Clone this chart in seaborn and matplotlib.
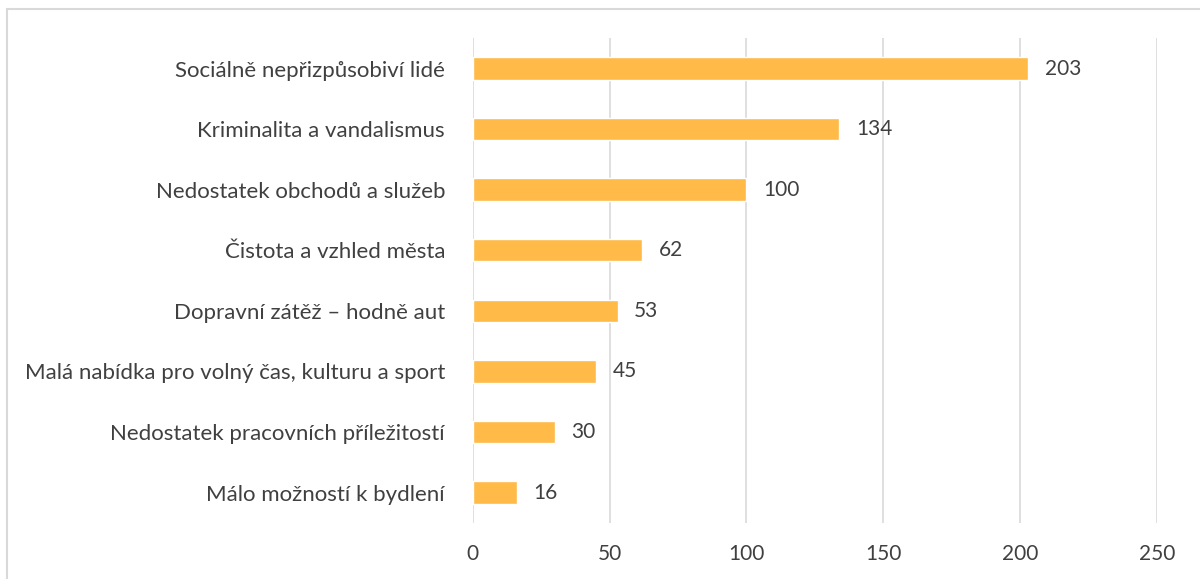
import matplotlib
matplotlib.use('Agg')
import matplotlib.pyplot as plt
import seaborn as sns
import pandas as pd
from matplotlib.patches import Rectangle

# Data
categories = ['Sociálně nepřizpůsobiví lidé', 'Kriminalita a vandalismus',
              'Nedostatek obchodů a služeb', 'Čistota a vzhled města',
              'Dopravní zátěž – hodně aut', 'Malá nabídka pro volný čas, kulturu a sport',
              'Nedostatek pracovních příležitostí', 'Málo možností k bydlení']
counts = [203, 134, 100, 62, 53, 45, 30, 16]
x_ticks = [0, 50, 100, 150, 200, 250]

df = pd.DataFrame({'kategorie': categories, 'pocet': counts})

sns.set_style('white')
plt.rcParams['font.family'] = ['Lato', 'DejaVu Sans']
text_col = '#404040'

fig = plt.figure(figsize=(12, 5.79), dpi=100)
ax = fig.add_axes([0.394, 0.097, 0.570, 0.837])

sns.barplot(data=df, x='pocet', y='kategorie', color='#FFBA47', saturation=1,
            width=0.37, ax=ax)

for bar, v in zip(ax.patches, counts):
    ax.text(bar.get_width() + 6, bar.get_y() + bar.get_height() / 2, str(v),
            va='center', ha='left', fontsize=15, color=text_col)

ax.set_xlim(0, 250)
ax.set_xticks(x_ticks)
ax.set_xlabel('')
ax.set_ylabel('')
ax.grid(axis='x', color='#d9d9d9', linewidth=1.2)
ax.set_axisbelow(True)
for s in ax.spines.values():
    s.set_visible(False)
ax.tick_params(axis='x', length=0, labelsize=15, labelcolor=text_col, pad=15)
ax.tick_params(axis='y', length=0, labelsize=16, labelcolor=text_col, pad=20)

fig.patches.append(Rectangle((7 / 1200, -0.1), 1.2, 1 - 9 / 579 + 0.1,
                             transform=fig.transFigure, fill=False,
                             edgecolor='#d9d9d9', linewidth=1.5))

fig.savefig('out.png', dpi=100)
